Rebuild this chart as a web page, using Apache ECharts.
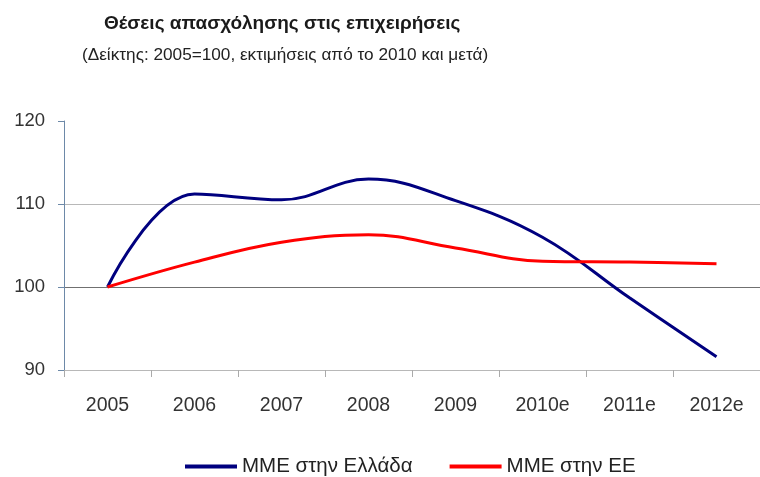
<!DOCTYPE html>
<html>
<head>
<meta charset="utf-8">
<script src="https://cdn.jsdelivr.net/npm/echarts@6/dist/echarts.min.js"></script>
<style>
  html, body { margin: 0; padding: 0; background: #fff; }
  #chart { width: 760px; height: 477px; }
</style>
</head>
<body>
<div id="chart"></div>
<script>
// categories and values
var years = ['2005', '2006', '2007', '2008', '2009', '2010e', '2011e', '2012e'];
var greece = [100, 111.2, 110.5, 113.0, 110.4, 106.0, 98.7, 91.6];
var eu = [100, 103.0, 105.4, 106.3, 104.7, 103.1, 103.0, 102.8];
var yTicks = [90, 100, 110, 120];

var chart = echarts.init(document.getElementById('chart'));
var font = 'Liberation Sans, Arial, sans-serif';

chart.setOption({
    animation: false,
    title: [{
        text: 'Θέσεις απασχόλησης στις επιχειρήσεις',
        left: 99, top: 9,
        textStyle: { fontFamily: font, fontSize: 19, fontWeight: 'bold', color: '#1a1a1a' }
    }, {
        text: '(Δείκτης: 2005=100, εκτιμήσεις από το 2010 και μετά)',
        left: 77, top: 42,
        textStyle: { fontFamily: font, fontSize: 17.2, fontWeight: 'normal', color: '#222' }
    }],
    legend: {
        left: 180, top: 451,
        itemWidth: 52, itemHeight: 4, itemGap: 37,
        icon: 'rect',
        textStyle: { fontFamily: font, fontSize: 20.5, color: '#222' },
        data: ['ΜΜΕ στην Ελλάδα', 'ΜΜΕ στην ΕΕ']
    },
    grid: { left: 64, right: 0, top: 121, bottom: 107 },
    xAxis: {
        type: 'category',
        data: years,
        boundaryGap: true,
        axisLine: { show: false },
        axisTick: { show: true, length: 7, alignWithLabel: false, lineStyle: { color: '#aaa' } },
        axisLabel: { margin: 26, fontFamily: font, fontSize: 19.5, color: '#333' }
    },
    yAxis: {
        type: 'value',
        min: yTicks[0], max: yTicks[yTicks.length - 1], interval: 10,
        axisLine: { show: true, lineStyle: { color: '#6d89a8', width: 1 } },
        axisTick: { show: true, length: 6, lineStyle: { color: '#6d89a8' } },
        axisLabel: { margin: 19, fontFamily: font, fontSize: 18.5, color: '#333' },
        splitLine: { show: true, lineStyle: { color: ['#b8b8b8', '#707070', '#b8b8b8', 'rgba(0,0,0,0)'], width: 1 } }
    },
    series: [{
        name: 'ΜΜΕ στην Ελλάδα',
        type: 'line',
        data: greece,
        smooth: 0.4,
        symbol: 'none',
        lineStyle: { color: '#00007f', width: 3 },
        itemStyle: { color: '#00007f' }
    }, {
        name: 'ΜΜΕ στην ΕΕ',
        type: 'line',
        data: eu,
        smooth: 0.4,
        symbol: 'none',
        lineStyle: { color: '#ff0000', width: 3 },
        itemStyle: { color: '#ff0000' }
    }]
});
</script>
</body>
</html>
